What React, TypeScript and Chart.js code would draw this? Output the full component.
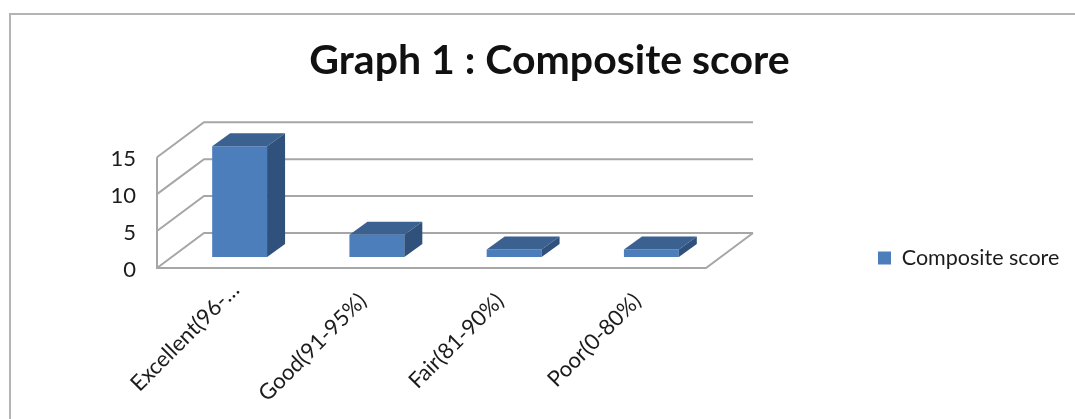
import React, { useEffect, useRef } from "react";
import { Chart, registerables } from "chart.js";

Chart.register(...registerables);

const categories = ["Excellent(96-…", "Good(91-95%)", "Fair(81-90%)", "Poor(0-80%)"];
const seriesName = "Composite score";
const seriesValues = [15, 3, 1, 1];
const titleText = "Graph 1 : Composite score";
const yTicks = [0, 5, 10, 15];

const FONT = "Lato, 'Open Sans', sans-serif";
const FRONT = "#4c7ebc";
const TOP = "#3b6191";
const SIDE = "#30517b";
const GRID = "#a6a6a6";
const TEXT = "#1c1c1c";

const WALL_DX = 47;
const WALL_DY = -35;
const BAR_SHIFT_X = 14;
const BAR_SHIFT_Y = -11;
const BAR_DX = 18;
const BAR_DY = -13;

const scene3d = {
  id: "scene3d",
  beforeLayout(chart: any) {
    const legend = chart.legend;
    if (legend && !legend.__wrapped) {
      const fit = legend.fit;
      legend.fit = function () {
        fit.call(this);
        this.width = 369;
      };
      legend.__wrapped = true;
    }
  },
  afterLayout(chart: any) {
    const legend = chart.legend;
    if (legend) {
      legend.left = 868;
      legend.right = 1075;
      legend.top = 240;
      legend.bottom = 276;
    }
  },
  afterUpdate(chart: any) {
    // Nudge library-drawn labels onto the reference's text positions
    const xItems = chart.scales.x.getLabelItems();
    if (xItems[0]) {
      xItems[0].options.translation[0] += 10;
      xItems[0].options.translation[1] -= 11;
    }
    for (const item of chart.scales.y.getLabelItems()) {
      item.options.translation[1] += 2;
    }
  },
  beforeDraw(chart: any) {
    const { ctx, width, height } = chart;
    ctx.save();
    ctx.strokeStyle = "#b4b4b4";
    ctx.lineWidth = 2;
    ctx.beginPath();
    ctx.moveTo(10, height);
    ctx.lineTo(10, 14);
    ctx.lineTo(width, 14);
    ctx.stroke();
    ctx.restore();
  },
  beforeDatasetsDraw(chart: any) {
    const { ctx, chartArea, scales } = chart;
    const { left, right } = chartArea;
    const y = scales.y;
    ctx.save();
    ctx.strokeStyle = GRID;
    ctx.lineWidth = 2;
    ctx.beginPath();
    // Side wall edge and floor
    ctx.moveTo(left, y.getPixelForValue(yTicks[yTicks.length - 1]));
    ctx.lineTo(left, y.getPixelForValue(0));
    ctx.lineTo(right, y.getPixelForValue(0));
    ctx.lineTo(right + WALL_DX, y.getPixelForValue(0) + WALL_DY);
    for (const v of yTicks) {
      const py = y.getPixelForValue(v);
      ctx.moveTo(left, py);
      ctx.lineTo(left + WALL_DX, py + WALL_DY);
      ctx.lineTo(right + WALL_DX, py + WALL_DY);
    }
    ctx.stroke();
    ctx.restore();
    // Bars are drawn further back on the floor than the axis front edge
    ctx.save();
    ctx.translate(BAR_SHIFT_X, BAR_SHIFT_Y);
  },
  afterDatasetsDraw(chart: any) {
    const { ctx } = chart;
    const meta = chart.getDatasetMeta(0);
    for (const bar of meta.data) {
      const { x, y, base, width } = bar.getProps(["x", "y", "base", "width"], true);
      const l = x - width / 2;
      const r = x + width / 2;
      ctx.fillStyle = TOP;
      ctx.beginPath();
      ctx.moveTo(l, y);
      ctx.lineTo(l + BAR_DX, y + BAR_DY);
      ctx.lineTo(r + BAR_DX, y + BAR_DY);
      ctx.lineTo(r, y);
      ctx.closePath();
      ctx.fill();
      ctx.fillStyle = SIDE;
      ctx.beginPath();
      ctx.moveTo(r, y);
      ctx.lineTo(r + BAR_DX, y + BAR_DY);
      ctx.lineTo(r + BAR_DX, base + BAR_DY);
      ctx.lineTo(r, base);
      ctx.closePath();
      ctx.fill();
    }
    ctx.restore();
  },
};

export default function App() {
  const ref = useRef<HTMLCanvasElement>(null);
  useEffect(() => {
    if (!ref.current) return;
    const chart = new Chart(ref.current, {
      type: "bar",
      data: {
        labels: categories,
        datasets: [
          {
            label: seriesName,
            data: seriesValues,
            backgroundColor: FRONT,
            borderWidth: 0,
            categoryPercentage: 1,
            barPercentage: 0.4,
            clip: false,
          } as any,
        ],
      },
      plugins: [scene3d],
      options: {
        animation: false,
        responsive: false,
        devicePixelRatio: 1,
        layout: { padding: { left: 24, right: 0, top: 0, bottom: 0 } },
        plugins: {
          title: {
            display: true,
            text: titleText,
            color: "#111111",
            font: { family: FONT, size: 41, weight: "bold", lineHeight: 1.2 },
            padding: { top: 36, bottom: 72 },
          },
          legend: {
            display: true,
            position: "right",
            labels: {
              boxWidth: 13,
              boxHeight: 13,
              padding: 10,
              color: TEXT,
              font: { family: FONT, size: 21.5 },
            },
          },
          tooltip: { enabled: false },
        },
        scales: {
          x: {
            afterFit(s: any) {
              s.height = 151;
            },
            grid: { display: false, drawTicks: false },
            border: { display: false },
            ticks: {
              autoSkip: false,
              minRotation: 45,
              maxRotation: 45,
              padding: 20,
              color: TEXT,
              font: { family: FONT, size: 22 },
            },
          },
          y: {
            min: 0,
            max: 15,
            afterFit(s: any) {
              s.width = 133;
            },
            grid: { display: false, drawTicks: false },
            border: { display: false },
            ticks: {
              stepSize: 5,
              padding: 21,
              color: TEXT,
              font: { family: FONT, size: 22 },
            },
          },
        },
      },
    } as any);
    return () => chart.destroy();
  }, []);
  return (
    <div style={{ position: "absolute", left: 0, top: 0, width: 1075, height: 419, background: "#ffffff" }}>
      <canvas ref={ref} width={1075} height={419} style={{ display: "block" }} />
    </div>
  );
}
